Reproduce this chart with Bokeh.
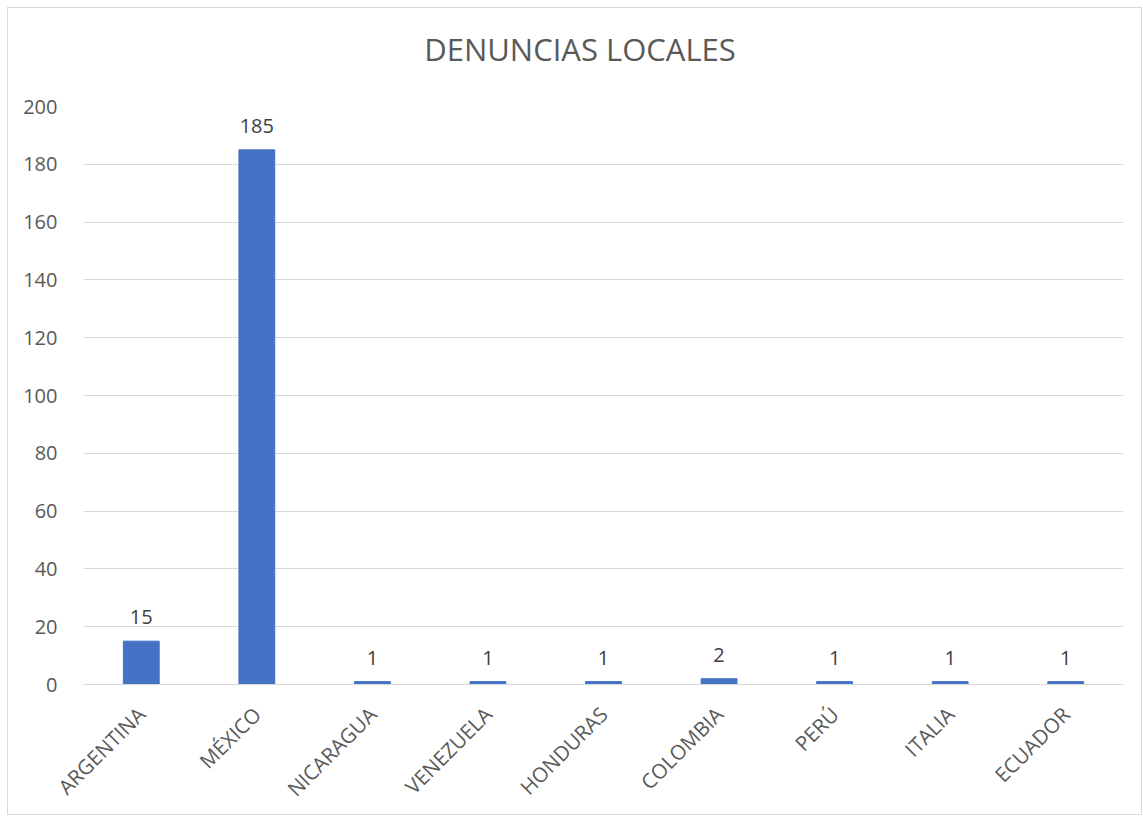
import math
from bokeh.plotting import figure
from bokeh.layouts import column
from bokeh.models import ColumnDataSource, Range1d, FixedTicker, LabelSet, Div
from bokeh.core.properties import value
from bokeh.embed import file_html
from bokeh.resources import INLINE

categories = ["ARGENTINA", "MÉXICO", "NICARAGUA", "VENEZUELA", "HONDURAS",
              "COLOMBIA", "PERÚ", "ITALIA", "ECUADOR"]
values = [15, 185, 1, 1, 1, 2, 1, 1, 1]
y_ticks = [0, 20, 40, 60, 80, 100, 120, 140, 160, 180, 200]
title_text = "DENUNCIAS LOCALES"

FONT = "Open Sans"
GREY = "#595959"

src = ColumnDataSource(dict(cat=categories, val=values, lab=[str(v) for v in values]))

title_div = Div(
    text=(f'<div style="width:1133px;box-sizing:border-box;padding-left:11px;'
          f'padding-top:26px;text-align:center;font-family:\'{FONT}\';'
          f'font-size:31px;line-height:31px;color:{GREY};white-space:nowrap">'
          f'{title_text}</div>'),
    width=1133, height=86, margin=0)

p = figure(x_range=categories, y_range=Range1d(0, 200), width=1133, height=720,
           output_backend="svg", toolbar_location=None,
           min_border_left=75, min_border_right=18, min_border_bottom=129,
           min_border_top=12)
p.margin = 0

p.vbar(x="cat", top="val", width=0.31, source=src, color="#4472C4")

labels = LabelSet(x="cat", y="val", text="lab", source=src, text_align="center",
                  text_baseline="bottom", y_offset=17, text_font_size="20px",
                  text_color="#404040", text_font=value(FONT))
p.add_layout(labels)

p.outline_line_color = None
p.xgrid.grid_line_color = None
p.ygrid.grid_line_color = "#d9d9d9"
p.ygrid.grid_line_width = 1

p.yaxis.ticker = FixedTicker(ticks=y_ticks)
p.yaxis.axis_line_color = None
p.yaxis.major_tick_line_color = None
p.yaxis.minor_tick_line_color = None
p.yaxis.major_label_text_font = FONT
p.yaxis.major_label_text_font_size = "20px"
p.yaxis.major_label_text_color = GREY
p.yaxis.major_label_standoff = 20

p.xaxis.axis_line_color = "#d9d9d9"
p.xaxis.major_tick_line_color = None
p.xaxis.minor_tick_line_color = None
p.xaxis.major_label_orientation = math.pi / 4
p.xaxis.major_label_text_font = FONT
p.xaxis.major_label_text_font_size = "20.5px"
p.xaxis.major_label_text_color = GREY
p.xaxis.major_label_standoff = 20
p.x_range.range_padding = 0

layout = column(title_div, p, spacing=0)
layout.margin = (7, 0, 0, 7)
layout.styles = {"border": "1px solid #d9d9d9"}

open("out.html", "w").write(file_html(layout, INLINE))
